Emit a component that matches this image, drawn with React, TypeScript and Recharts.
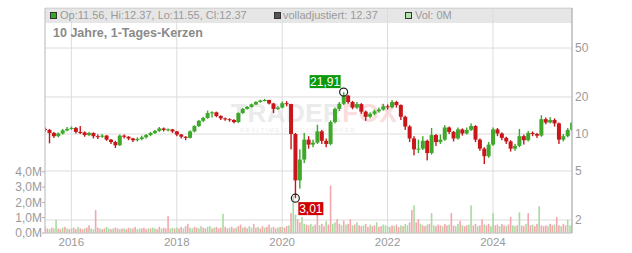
import React from 'react';
import { ComposedChart, Bar, XAxis, YAxis, CartesianGrid, ReferenceDot } from 'recharts';

const START = 2015.5;
const END = 2025.5;
const YEAR_TICKS = [2016, 2018, 2020, 2022, 2024];
const PRICE_TICKS = [2, 5, 10, 20, 50];
const VOL_TICKS = [0, 1e6, 2e6, 3e6, 4e6];
const PRICE_DOMAIN = [1.567, 105.8];
const VOL_DOMAIN = [0, 14.7e6];

const FIRST_OPEN = 11.0;
// monthly closes, July 2015 .. July 2025
const closes = [
  10.8, 10.2, 9.6, 10.1, 10.7, 11.0, 11.2, 10.4, 10.3, 9.8, 10.2, 9.6,
  9.5, 9.7, 9.0, 8.6, 8.1, 9.7, 9.5, 9.2, 8.9, 9.1, 9.4, 9.8,
  10.2, 10.6, 11.1, 10.8, 10.9, 10.5, 9.9, 9.5, 9.3, 10.5, 11.6, 12.8,
  13.5, 14.8, 15.0, 14.0, 13.4, 13.2, 13.0, 12.5, 14.8, 16.0, 16.6, 17.4,
  18.2, 18.7, 18.9, 17.7, 16.0, 16.4, 17.8, 17.5, 10.0, 4.2, 6.2, 9.0,
  8.2, 8.5, 10.5, 8.8, 8.3, 12.5, 16.0, 17.6, 20.5, 18.2, 16.4, 17.5,
  15.2, 13.8, 14.6, 15.3, 15.8, 16.8, 16.5, 18.2, 17.2, 13.8, 11.5, 9.2,
  7.5, 7.6, 8.8, 7.0, 9.8, 8.6, 9.0, 11.3, 10.4, 9.2, 10.9, 10.1,
  10.8, 11.6, 9.0, 7.6, 6.6, 8.2, 10.9, 10.1, 9.3, 8.7, 7.6, 8.0,
  9.6, 8.9, 10.2, 10.0, 9.7, 13.2, 12.4, 13.0, 12.2, 9.0, 9.6, 10.8,
  12.37,
];
const highs = [
  11.3, 11.0, 10.4, 10.3, 11.0, 11.4, 11.5, 11.4, 11.6, 10.5, 10.4, 10.3,
  9.9, 10.0, 9.8, 9.1, 8.8, 9.9, 9.9, 9.6, 9.3, 9.4, 9.7, 10.0,
  10.4, 10.8, 11.4, 11.3, 11.1, 11.0, 10.6, 10.0, 9.6, 10.7, 11.8, 13.0,
  13.8, 15.5, 15.3, 15.2, 14.2, 13.6, 13.4, 13.2, 15.0, 16.3, 16.9, 17.7,
  18.5, 19.0, 19.3, 19.0, 17.9, 16.8, 18.4, 18.5, 17.6, 10.2, 7.5, 10.2,
  9.6, 9.0, 11.9, 10.8, 9.2, 12.9, 16.4, 18.2, 21.91, 20.8, 18.6, 18.2,
  17.8, 15.5, 15.0, 15.8, 16.4, 17.6, 17.4, 18.9, 18.6, 17.4, 14.1, 11.8,
  9.6, 9.0, 9.6, 9.0, 11.2, 10.0, 9.9, 11.8, 11.5, 10.6, 11.3, 11.1,
  11.3, 12.2, 11.8, 9.2, 7.8, 8.6, 11.3, 11.2, 10.3, 9.5, 8.9, 8.3,
  11.0, 9.9, 10.6, 10.5, 10.2, 14.2, 13.6, 13.7, 13.4, 12.4, 10.0, 11.2,
  12.4,
];
const lows = [
  10.4, 8.4, 9.3, 9.4, 9.9, 10.5, 10.8, 10.1, 10.0, 9.5, 9.6, 9.2,
  9.1, 9.3, 8.8, 8.3, 7.7, 8.0, 9.2, 8.9, 8.6, 8.7, 8.9, 9.2,
  9.6, 10.0, 10.4, 10.5, 10.5, 10.2, 9.6, 9.2, 8.9, 9.2, 10.3, 11.4,
  12.5, 13.3, 13.6, 13.7, 13.0, 12.8, 12.6, 12.2, 12.3, 14.6, 15.8, 16.4,
  17.2, 18.0, 18.4, 17.4, 14.8, 15.7, 16.2, 16.8, 7.5, 3.01, 3.6, 5.8,
  7.6, 7.8, 8.3, 8.3, 7.8, 8.1, 12.2, 15.4, 17.2, 17.6, 15.9, 16.0,
  14.6, 12.8, 13.4, 14.2, 14.9, 15.5, 15.8, 16.2, 16.4, 13.0, 10.8, 8.6,
  6.7, 7.0, 7.4, 6.1, 6.8, 8.0, 8.3, 8.8, 10.0, 8.7, 9.0, 9.7,
  9.9, 10.6, 8.6, 7.3, 5.7, 6.4, 8.0, 9.6, 8.9, 8.3, 7.2, 7.3,
  7.8, 8.2, 8.7, 9.6, 9.3, 9.5, 12.0, 12.2, 11.5, 8.3, 8.7, 9.4,
  10.6,
];
// half-monthly volume samples, millions
const volumesM = [
  0.45, 0.3, 0.25, 0.35, 0.3, 0.85, 0.3, 0.25, 0.35, 0.4, 0.3, 0.25,
  0.3, 0.35, 0.25, 0.4, 0.3, 0.25, 0.3, 0.35, 0.5, 0.3, 0.25, 1.5,
  0.35, 0.3, 0.25, 0.3, 0.4, 0.3, 0.25, 0.3, 0.35, 0.3, 0.25, 0.3,
  0.3, 0.25, 0.35, 0.3, 0.3, 0.4, 0.25, 0.3, 0.3, 0.35, 0.25, 0.3,
  0.3, 0.35, 0.3, 0.25, 0.4, 0.3, 0.35, 0.3, 1.1, 0.3, 0.35, 0.3,
  0.35, 0.3, 0.4, 0.3, 0.45, 0.6, 0.35, 0.3, 0.4, 0.35, 0.3, 0.45,
  0.35, 0.3, 0.4, 0.45, 0.3, 0.35, 0.4, 0.3, 0.35, 1.25, 0.4, 0.3,
  0.35, 0.4, 0.3, 0.35, 0.45, 0.55, 0.35, 0.4, 0.3, 0.45, 0.35, 0.6,
  0.35, 0.4, 0.3, 0.45, 0.35, 0.4, 0.55, 0.35, 0.4, 0.3, 0.35, 0.4,
  0.4, 0.35, 0.45, 0.5, 1.3, 2.4, 1.2, 0.9, 0.7, 1.05, 0.6, 0.55,
  0.5, 0.6, 0.45, 0.55, 1.3, 0.5, 0.6, 0.45, 0.8, 0.55, 3.1, 0.6,
  0.7, 0.9, 0.6, 0.5, 0.8, 0.55, 0.6, 0.9, 0.5, 0.55, 0.7, 0.5,
  0.45, 0.5, 0.6, 0.4, 0.55, 0.45, 0.5, 0.7, 0.4, 0.45, 0.55, 0.5,
  0.45, 0.4, 0.5, 0.45, 0.55, 0.4, 0.5, 0.45, 0.6, 0.5, 0.7, 1.5,
  1.8, 0.7, 0.9, 0.6, 0.5, 0.45, 0.55, 0.6, 1.3, 0.5, 0.45, 0.55,
  0.5, 0.45, 0.6, 0.5, 0.55, 1.3, 0.5, 0.45, 0.6, 0.8, 0.5, 0.45,
  0.5, 0.55, 1.8, 0.5, 0.6, 0.45, 0.5, 0.9, 0.55, 0.5, 0.6, 0.45,
  1.3, 0.5, 0.55, 0.45, 0.6, 0.5, 0.45, 0.55, 1.05, 0.5, 0.45, 0.5,
  1.35, 0.5, 0.45, 0.6, 1.3, 0.5, 0.55, 0.45, 0.6, 1.75, 0.5, 0.45,
  0.5, 0.45, 0.6, 0.5, 0.55, 1.05, 0.5, 0.45, 0.6, 0.5, 0.85, 0.5, 0.55,
];
const volDir = [
  'dduduuddudud', 'udduddudduud', 'dudduududdud', 'uddudduudddu', 'duudduddduud',
  'uddudduudduu', 'dduududddudd', 'udduddudduud', 'duddudduddud', 'udduduudduud',
  'duuddudduddu', 'uddududdudud', 'dudduddudduu', 'uddudduduudd', 'uddudduduudd',
  'duddudduudud', 'duuddudduddu', 'udduddudduud', 'uddudduddudd', 'dudduddudduud',
].join('');

const GREEN = '#3fa82c';
const RED = '#c8161b';
const VOL_UP = '#a9dba1';
const VOL_DN = '#f3a7ad';
const GRID = '#dcdcdc';
const LABEL = '#9a9a9a';
const FONT = '"Liberation Sans", Arial, sans-serif';

type Row = {
  t: number;
  vol: number;
  vup: boolean;
  body?: [number, number];
  wick?: [number, number];
  cup?: boolean;
};

const rows: Row[] = volumesM.map((v, j) => {
  const row: Row = { t: START + j / 24, vol: v * 1e6, vup: volDir[j] === 'u' };
  if (j % 2 === 0) {
    const i = j / 2;
    const o = i === 0 ? FIRST_OPEN : closes[i - 1];
    const c = closes[i];
    row.body = [Math.min(o, c), Math.max(o, c)];
    row.wick = [lows[i], highs[i]];
    row.cup = c >= o;
  }
  return row;
});

let minIdx = 0;
let maxIdx = 0;
lows.forEach((l, i) => { if (l < lows[minIdx]) minIdx = i; });
highs.forEach((h, i) => { if (h > highs[maxIdx]) maxIdx = i; });
const tLow = START + minIdx / 12;
const tHigh = START + maxIdx / 12;
const fmt = (n: number) => n.toFixed(2).replace('.', ',');

const rectOf = (p: any, w: number) => {
  const top = Math.min(p.y, p.y + p.height);
  const h = Math.max(Math.abs(p.height), 1);
  const cx = p.x + p.width / 2;
  return { x: cx - w / 2, y: top, width: w, height: h };
};

const BodyShape = (p: any) => {
  const d = p.payload;
  if (!d || !d.body || !isFinite(p.y) || !isFinite(p.height)) return <g />;
  return <rect {...rectOf(p, 4)} fill={d.cup ? GREEN : RED} />;
};
const WickShape = (p: any) => {
  const d = p.payload;
  if (!d || !d.wick || !isFinite(p.y) || !isFinite(p.height)) return <g />;
  return <rect {...rectOf(p, 1.4)} fill={d.cup ? GREEN : RED} />;
};
const VolShape = (p: any) => {
  const d = p.payload;
  if (!d || !isFinite(p.y) || !isFinite(p.height)) return <g />;
  return <rect {...rectOf(p, 1.6)} fill={d.vup ? VOL_UP : VOL_DN} />;
};

const LowMarker = (p: any) => (
  <g>
    <circle cx={p.cx} cy={p.cy} r={4} fill="none" stroke="#222" strokeWidth={1.2} />
    <rect x={p.cx + 3} y={p.cy + 4} width={25} height={13} fill="#d00000" />
    <text x={p.cx + 15.5} y={p.cy + 14.5} fill="#fff" fontSize={12} fontFamily={FONT} textAnchor="middle">
      {fmt(lows[minIdx])}
    </text>
  </g>
);
const HighMarker = (p: any) => (
  <g>
    <circle cx={p.cx} cy={p.cy} r={4} fill="none" stroke="#222" strokeWidth={1.2} />
    <rect x={p.cx - 34} y={p.cy - 17} width={31} height={13} fill="#0a990a" />
    <text x={p.cx - 18.5} y={p.cy - 6.5} fill="#fff" fontSize={12} fontFamily={FONT} textAnchor="middle">
      {fmt(highs[maxIdx])}
    </text>
  </g>
);

const volFmt = (v: number) => (v / 1e6).toFixed(1).replace('.', ',') + 'M';

export default function App() {
  return (
    <div style={{ position: 'absolute', left: 0, top: 0, width: 632, height: 253, background: '#fff', fontFamily: FONT }}>
      {/* header band */}
      <div style={{ position: 'absolute', left: 45, top: 8, width: 527, height: 14, background: '#e6e6e6', borderTop: '1px solid #d0d0d0' }} />
      {/* watermark */}
      <div style={{ position: 'absolute', left: 231, top: 102, fontSize: 26, lineHeight: '22px', height: 22, fontWeight: 700, color: '#ebebeb', letterSpacing: 0.5, whiteSpace: 'nowrap' }}>
        TRADER<span style={{ color: '#fbdcdf' }}>FOX</span>
      </div>
      <div style={{ position: 'absolute', left: 240, top: 127, fontSize: 6, lineHeight: '7px', height: 7, color: '#ececec', letterSpacing: 1.4, whiteSpace: 'nowrap' }}>
        REALTIME STOCKSCREENER
      </div>
      <div style={{ position: 'absolute', left: 0, top: 0 }}>
        <ComposedChart width={632} height={253} data={rows} margin={{ top: 8, right: 0, bottom: 0, left: 0 }}>
          <XAxis xAxisId="a" dataKey="t" type="number" domain={[START, END]} allowDataOverflow ticks={YEAR_TICKS}
            tickLine={false} tickSize={5} tickMargin={0} height={20}
            axisLine={{ stroke: '#c8c8c8' }} tick={{ fill: LABEL, fontSize: 11.5, fontFamily: FONT }} />
          <XAxis xAxisId="b" dataKey="t" type="number" domain={[START, END]} allowDataOverflow hide />
          <XAxis xAxisId="c" dataKey="t" type="number" domain={[START, END]} allowDataOverflow hide />
          <YAxis yAxisId="vol" orientation="left" width={45} domain={VOL_DOMAIN} allowDataOverflow ticks={VOL_TICKS}
            tickFormatter={volFmt} tickSize={3} tickMargin={0} interval={0}
            axisLine={{ stroke: '#c8c8c8' }} tickLine={{ stroke: '#b0b0b0' }}
            tick={{ fill: LABEL, fontSize: 12, fontFamily: FONT }} />
          <YAxis yAxisId="price" orientation="right" width={60} scale="log" domain={PRICE_DOMAIN} allowDataOverflow
            ticks={PRICE_TICKS} interval={0} tickSize={3} tickMargin={0} tickLine={false}
            axisLine={{ stroke: '#aaaaaa' }} tick={{ fill: LABEL, fontSize: 12, fontFamily: FONT }} />
          <CartesianGrid xAxisId="a" yAxisId="price" stroke={GRID} strokeWidth={1} />
          <Bar xAxisId="c" yAxisId="vol" dataKey="vol" shape={VolShape} isAnimationActive={false} />
          <Bar xAxisId="b" yAxisId="price" dataKey="wick" shape={WickShape} isAnimationActive={false} />
          <Bar xAxisId="a" yAxisId="price" dataKey="body" shape={BodyShape} isAnimationActive={false} />
          <ReferenceDot xAxisId="a" yAxisId="price" x={tLow} y={lows[minIdx]} r={4} shape={LowMarker} />
          <ReferenceDot xAxisId="a" yAxisId="price" x={tHigh} y={highs[maxIdx]} r={4} shape={HighMarker} />
        </ComposedChart>
      </div>
      {/* header legend */}
      <div style={{ position: 'absolute', left: 50, top: 12, width: 5, height: 5, background: '#33aa22', border: '1px solid #333' }} />
      <div style={{ position: 'absolute', left: 60, top: 9, fontSize: 11, lineHeight: '13px', color: LABEL, whiteSpace: 'nowrap' }}>
        Op:11.56, Hi:12.37, Lo:11.55, Cl:12.37
      </div>
      <div style={{ position: 'absolute', left: 274, top: 12, width: 5, height: 5, background: '#555', border: '1px solid #333' }} />
      <div style={{ position: 'absolute', left: 283, top: 9, fontSize: 11, lineHeight: '13px', color: LABEL, whiteSpace: 'nowrap' }}>
        volladjustiert: 12.37
      </div>
      <div style={{ position: 'absolute', left: 405, top: 12, width: 5, height: 5, background: '#b4e2ac', border: '1px solid #333' }} />
      <div style={{ position: 'absolute', left: 415, top: 9, fontSize: 11, lineHeight: '13px', color: LABEL, whiteSpace: 'nowrap' }}>
        Vol: 0M
      </div>
      <div style={{ position: 'absolute', left: 53, top: 26, fontSize: 12.5, fontWeight: 700, lineHeight: '14px', color: '#8a8a8a', whiteSpace: 'nowrap' }}>
        10 Jahre, 1-Tages-Kerzen
      </div>
    </div>
  );
}
